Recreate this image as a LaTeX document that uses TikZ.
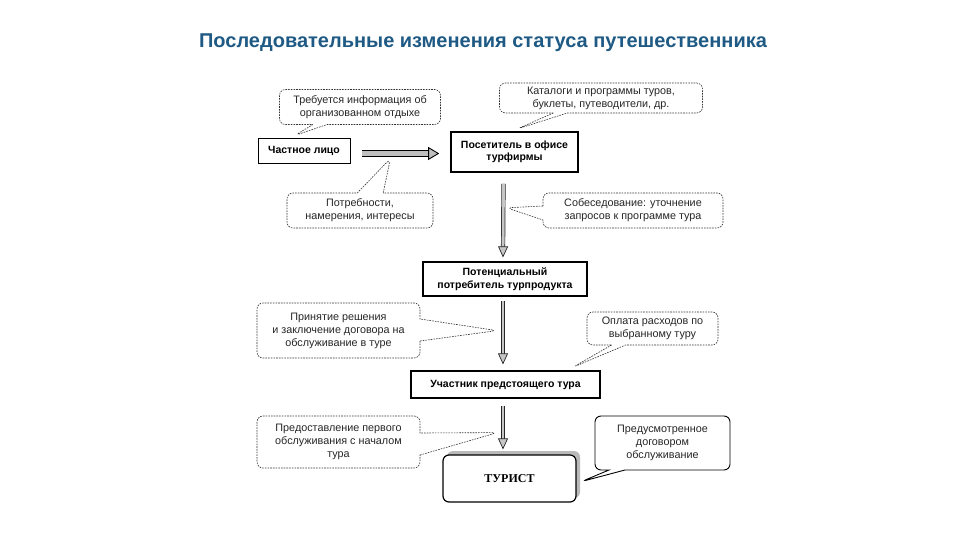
\documentclass[tikz,border=0pt]{standalone}
\usepackage{fontspec}
\setmainfont{Liberation Sans}
\newfontfamily\serifbold{Liberation Serif}
\usetikzlibrary{shapes.callouts,arrows.meta,calc}
\definecolor{titleblue}{HTML}{1F5A85}
\begin{document}
\begin{tikzpicture}[x=1pt,y=-1pt,
  box/.style={draw, fill=white, align=center, font=\fontsize{10.5}{12.5}\selectfont\bfseries, inner sep=2pt},
  bubble/.style={rectangle callout, draw=black!80, dash pattern=on 1.6pt off 1.1pt, line width=0.6pt,
     rounded corners=6pt, align=center, font=\fontsize{10.8}{13}\selectfont, text=black!85, inner sep=1pt,
     callout pointer width=16pt},
  hollowh/.style={draw=black, line width=0.9pt, double=gray!50, double distance=4.5pt,
     -{Triangle[open, length=11pt, width=13pt, fill=gray!50]}},
  hollowv/.style={draw=black!85, line width=0.7pt, double=gray!45, double distance=2.8pt,
     -{Triangle[open, length=11pt, width=10pt, fill=gray!45]}}]
\useasboundingbox (0,0) rectangle (960,540);
\fill[white] (0,0) rectangle (960,540);

% title
\node[font=\fontsize{20}{24}\selectfont\bfseries, text=titleblue] (title) at (483,43)
  {Последовательные изменения статуса путешественника};

% main boxes
\node[box, line width=0.8pt, minimum width=92, minimum height=25] (p1) at (304,150.5) {Частное лицо};
\node[box, line width=1.6pt, minimum width=127, minimum height=40] (p2) at (514.5,152) {Посетитель в офисе\\турфирмы};
\node[box, line width=1.2pt, minimum width=164, minimum height=34] (p3) at (505,279) {Потенциальный\\потребитель турпродукта};
\node[box, line width=1.2pt, minimum width=189, minimum height=27] (p4) at (505.5,384.5) {Участник предстоящего тура};
\fill[gray!55, rounded corners=6pt] (447,451) rectangle (580,498);
\node[draw, fill=white, line width=1.2pt, rounded corners=6pt, minimum width=133, minimum height=47,
  font=\serifbold\fontsize{12}{14}\selectfont\bfseries] (p5) at (509.5,478.5) {ТУРИСТ};

% arrows
\draw[hollowh] ($(p1.east)+(12,3)$) -- ($(p2.west)+(-11,1.5)$);
\draw[hollowv] ($(p2.south)+(-11,11)$) -- ($(p3.north)+(-2,-4)$);
\draw[hollowv] ($(p3.south)+(-2,4)$) -- ($(p4.north)+(-2.5,-6)$);
\draw[hollowv] ($(p4.south)+(-2.5,7)$) -- ($(p5.north)+(-6.5,-5)$);

% callouts
\node[bubble, minimum width=161, minimum height=35, callout pointer width=14pt,
  callout absolute pointer={($(p1.north west)+(37,-2)$)}] (c1) at (360,107)
  {Требуется информация об\\организованном отдыхе};
\node[bubble, minimum width=203, minimum height=30, callout pointer width=14pt,
  callout absolute pointer={($(p2.north)+(2,-2)$)}] (c2) at (601,98)
  {Каталоги и программы туров,\\буклеты, путеводители, др.};
\node[bubble, minimum width=146, minimum height=35, callout pointer width=26pt,
  callout absolute pointer={($(p1.east)+(40,8)$)}] (c3) at (360,210.5)
  {Потребности,\\намерения, интересы};
\node[bubble, minimum width=180, minimum height=35, callout pointer width=14pt,
  callout absolute pointer={($(p2.south)+(-8,35)$)}] (c4) at (633,210.5)
  {Собеседование: уточнение\\запросов к программе тура};
\node[bubble, minimum width=163, minimum height=55, callout pointer width=22pt,
  callout absolute pointer={($(p3.south)+(-8,34)$)}] (c5) at (338.5,330.5)
  {Принятие решения\\и заключение договора на\\обслуживание в туре};
\node[bubble, minimum width=131, minimum height=33, callout pointer width=14pt,
  callout absolute pointer={($(p4.north east)+(-28,-3)$)}] (c6) at (652.5,328.5)
  {Оплата расходов по\\выбранному туру};
\node[bubble, minimum width=163, minimum height=52, callout pointer width=22pt,
  callout absolute pointer={($(p4.south)+(-8,34)$)}] (c7) at (338.5,442)
  {Предоставление первого\\обслуживания с началом\\тура};
\node[bubble, draw=black, solid, line width=0.9pt, minimum width=135, minimum height=54, callout pointer width=16pt,
  callout absolute pointer={($(p5.east)+(5,3)$)}] (c8) at (662.5,443)
  {Предусмотренное\\договором\\обслуживание};
\end{tikzpicture}
\end{document}
